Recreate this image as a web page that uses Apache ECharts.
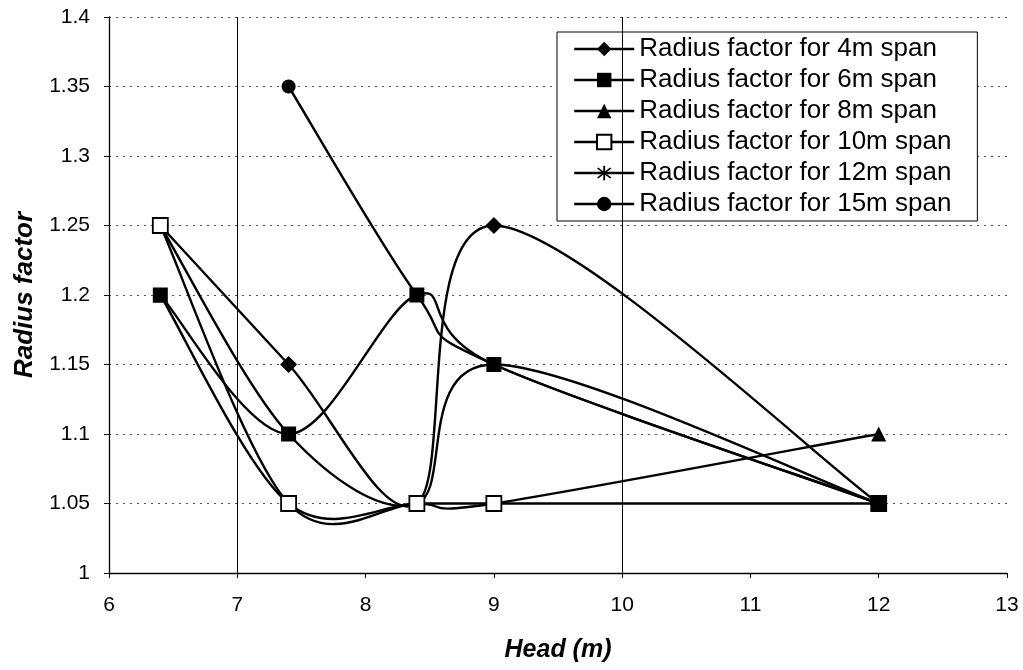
<!DOCTYPE html>
<html>
<head>
<meta charset="utf-8">
<title>Radius factor vs Head</title>
<script src="https://cdn.jsdelivr.net/npm/echarts@6/dist/echarts.min.js"></script>
<style>
  html, body { margin: 0; padding: 0; background: #fff; }
  #chart { width: 1023px; height: 670px; }
</style>
</head>
<body>
<div id="chart"></div>
<script>
// Head values (m) shared by every span
const heads = [6.4, 7.4, 8.4, 9, 12];

// Radius factor per span (null = no reading)
const span4m  = [1.25, 1.15, 1.05, 1.25, 1.05];
const span6m  = [1.2, 1.1, 1.2, 1.15, 1.05];
const span8m  = [1.2, 1.05, 1.05, 1.05, 1.1];
const span10m = [1.25, 1.05, 1.05, 1.05, 1.05];
const span12m = [1.25, 1.1, 1.05, 1.15, 1.05];
const span15m = [null, 1.35, 1.2, 1.15, 1.05];

const seriesNames = [
  'Radius factor for 4m span',
  'Radius factor for 6m span',
  'Radius factor for 8m span',
  'Radius factor for 10m span',
  'Radius factor for 12m span',
  'Radius factor for 15m span'
];

// Solid reference lines across the plot
const verticalRefs = [7, 10];

const FONT = '"Liberation Sans", Arial, sans-serif';
const INK = '#000';

// asterisk marker: vertical bar plus two diagonals
const ASTERISK = 'path://M9 0L11 0L11 20L9 20Z' +
  'M2.3 3.7L3.7 2.3L17.7 16.3L16.3 17.7Z' +
  'M16.3 2.3L17.7 3.7L3.7 17.7L2.3 16.3Z';

const spans = [
  { name: seriesNames[0], values: span4m,  symbol: 'diamond',   size: 17, fill: INK,    z: 3 },
  { name: seriesNames[1], values: span6m,  symbol: 'rect',      size: 15, fill: INK,    z: 8 },
  { name: seriesNames[2], values: span8m,  symbol: 'triangle',  size: 15, fill: INK,    z: 5 },
  { name: seriesNames[3], values: span10m, symbol: 'rect',      size: 15, fill: '#fff', z: 7 },
  { name: seriesNames[4], values: span12m, symbol: ASTERISK,    size: 14, fill: INK,    z: 6 },
  { name: seriesNames[5], values: span15m, symbol: 'circle',    size: 14, fill: INK,    z: 4 }
];

function pairs(values) {
  const out = [];
  values.forEach(function (v, i) { if (v != null) out.push([heads[i], v]); });
  return out;
}

// Smoothed curve through the points (cardinal spline, tension 1/6),
// computed in pixel space from the axis scales.
function curveSeries(pts) {
  return {
    type: 'custom',
    coordinateSystem: 'cartesian2d',
    silent: true,
    z: 2,
    data: pts,
    encode: { x: 0, y: 1 },
    renderItem: function (params, api) {
      if (params.dataIndex !== 0) return null;
      const p = pts.map(function (d) { return api.coord(d); });
      const n = p.length;
      const children = [];
      for (let i = 0; i < n - 1; i++) {
        const p0 = p[Math.max(i - 1, 0)];
        const p1 = p[i];
        const p2 = p[i + 1];
        const p3 = p[Math.min(i + 2, n - 1)];
        children.push({
          type: 'bezierCurve',
          shape: {
            x1: p1[0], y1: p1[1],
            cpx1: p1[0] + (p2[0] - p0[0]) / 6,
            cpy1: p1[1] + (p2[1] - p0[1]) / 6,
            cpx2: p2[0] - (p3[0] - p1[0]) / 6,
            cpy2: p2[1] - (p3[1] - p1[1]) / 6,
            x2: p2[0], y2: p2[1]
          },
          style: { stroke: INK, lineWidth: 2.4, fill: null, lineCap: 'round' }
        });
      }
      return { type: 'group', children: children };
    }
  };
}

const series = [];

// thin solid verticals
series.push({
  type: 'line',
  data: [],
  silent: true,
  z: 1,
  markLine: {
    silent: true,
    symbol: 'none',
    label: { show: false },
    animation: false,
    lineStyle: { color: INK, type: 'solid', width: 1 },
    data: verticalRefs.map(function (v) { return { xAxis: v }; })
  }
});

spans.forEach(function (s) {
  series.push(curveSeries(pairs(s.values)));
});

spans.forEach(function (s) {
  series.push({
    type: 'line',
    name: s.name,
    data: pairs(s.values),
    z: s.z,
    symbol: s.symbol,
    symbolSize: s.size,
    showSymbol: true,
    lineStyle: { opacity: 0, width: 2, color: INK },
    itemStyle: { color: s.fill, borderColor: INK, borderWidth: s.fill === '#fff' ? 1.8 : 0, opacity: 1 },
    emphasis: { disabled: true },
    animation: false
  });
});

const chart = echarts.init(document.getElementById('chart'), null, { renderer: 'canvas' });
chart.setOption({
  backgroundColor: '#fff',
  animation: false,
  grid: { left: 109, right: 16, top: 17, bottom: 97, containLabel: false },
  xAxis: {
    type: 'value',
    min: 6, max: 13, interval: 1,
    name: 'Head (m)',
    nameLocation: 'middle',
    nameGap: 65,
    nameTextStyle: { fontFamily: FONT, fontSize: 25, fontWeight: 'bold', fontStyle: 'italic', color: INK },
    axisLine: { show: true, onZero: false, lineStyle: { color: INK, width: 1.3 } },
    axisTick: { show: true, inside: false, length: 5, lineStyle: { color: INK } },
    axisLabel: { fontFamily: FONT, fontSize: 21, color: INK, margin: 22 },
    splitLine: { show: false }
  },
  yAxis: {
    type: 'value',
    min: 1, max: 1.4, interval: 0.05,
    name: 'Radius factor',
    nameLocation: 'middle',
    nameGap: 70,
    nameTextStyle: { fontFamily: FONT, fontSize: 26, fontWeight: 'bold', fontStyle: 'italic', color: INK },
    axisLine: { show: true, onZero: false, lineStyle: { color: INK, width: 1.3 } },
    axisTick: { show: true, inside: false, length: 5, lineStyle: { color: INK } },
    axisLabel: { fontFamily: FONT, fontSize: 21, color: INK, margin: 19 },
    splitLine: { show: true, lineStyle: { color: '#555', type: [2, 5], width: 1 } }
  },
  legend: {
    orient: 'vertical',
    left: 557,
    top: 32,
    data: seriesNames,
    backgroundColor: '#fff',
    borderColor: INK,
    borderWidth: 1,
    borderRadius: 0,
    padding: [4, 26, 4, 16],
    itemWidth: 60,
    itemHeight: 18,
    itemGap: 5,
    selectedMode: false,
    lineStyle: { color: INK, width: 2.4, opacity: 1 },
    textStyle: { fontFamily: FONT, fontSize: 26, lineHeight: 26, color: INK }
  },
  series: series
});
</script>
</body>
</html>
